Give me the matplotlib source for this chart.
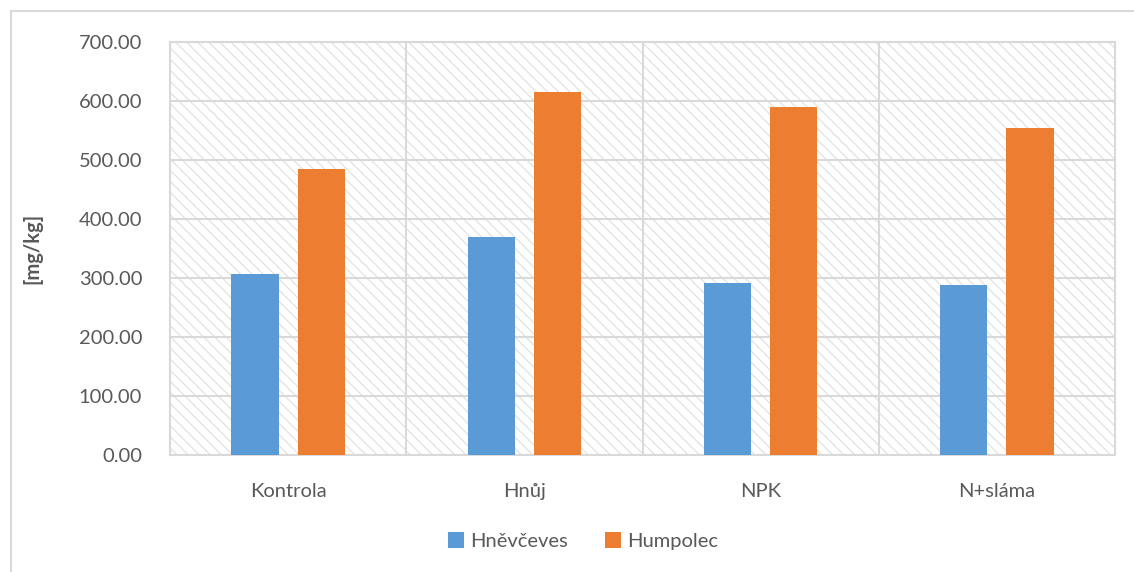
import matplotlib
matplotlib.use("Agg")
import matplotlib.pyplot as plt
import numpy as np
from matplotlib.patches import Rectangle
from matplotlib.lines import Line2D

categories = ["Kontrola", "Hnůj", "NPK", "N+sláma"]
series_names = ["Hněvčeves", "Humpolec"]
hnevceves = [306.5, 369.0, 291.5, 288.0]
humpolec = [484.0, 615.5, 590.5, 553.5]
yticks = [0, 100, 200, 300, 400, 500, 600, 700]

blue = "#5B9BD5"
orange = "#ED7D31"
grid_c = "#D9D9D9"
text_c = "#595959"

plt.rcParams['font.family'] = ['Lato', 'DejaVu Sans']
plt.rcParams['hatch.linewidth'] = 0.9
plt.rcParams['hatch.color'] = "#E2E2E2"

fig = plt.figure(figsize=(11.34, 5.72), dpi=100)
ax = fig.add_axes([170/1134, 1-455/572, (1115-170)/1134, (455-42)/572])

# outer frame (left and top visible)
fig.add_artist(Line2D([10.5/1134, 10.5/1134], [0, 1-10.5/572], transform=fig.transFigure, color="#D9D9D9", lw=1.5))
fig.add_artist(Line2D([10.5/1134, 1], [1-10.5/572, 1-10.5/572], transform=fig.transFigure, color="#D9D9D9", lw=1.5))

x = np.arange(len(categories))
ax.set_xlim(-0.5, len(categories) - 0.5)
ax.set_ylim(0, 700)

# hatched background
bg = Rectangle((0, 0), 1, 1, transform=ax.transAxes, facecolor="white",
               edgecolor="#E2E2E2", hatch="\\\\\\", lw=0, zorder=0)
ax.add_patch(bg)

w = 0.2
off = 0.14
ax.bar(x - off, hnevceves, w, color=blue, label=series_names[0], zorder=3)
ax.bar(x + off, humpolec, w, color=orange, label=series_names[1], zorder=3)

ax.set_yticks(yticks)
ax.set_yticklabels([f"{v:.2f}" for v in yticks])
ax.set_xticks(x)
ax.set_xticklabels(categories)
ax.tick_params(axis='both', length=0, colors=text_c, labelsize=14.5)
ax.tick_params(axis='y', pad=20)
ax.tick_params(axis='x', pad=20)

for v in yticks[1:]:
    ax.axhline(v, color=grid_c, lw=1.5, zorder=1)
for b in np.arange(0.5, len(categories) - 1, 1.0):
    ax.axvline(b, color=grid_c, lw=1.5, zorder=1)

for s in ax.spines.values():
    s.set_color(grid_c)
    s.set_linewidth(1.5)

ax.set_ylabel("[mg/kg]", fontsize=14.5, fontweight="bold", color=text_c)
ax.yaxis.set_label_coords(-128/945, 0.5)

leg = fig.legend(loc="center", bbox_to_anchor=(583/1134, 1-541/572), ncol=2,
                 frameon=False, fontsize=14.5, handlelength=0.8, handleheight=0.8,
                 handletextpad=0.3, columnspacing=1.8)
for t in leg.get_texts():
    t.set_color(text_c)

fig.savefig("out.png", dpi=100)
